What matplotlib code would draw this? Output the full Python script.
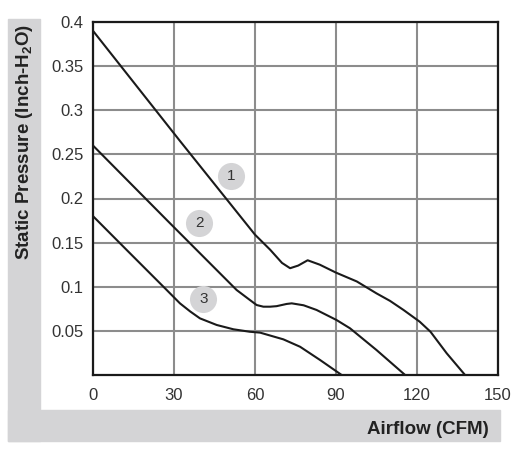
import matplotlib
matplotlib.use("Agg")
import matplotlib.pyplot as plt
from matplotlib.patches import Rectangle

plt.rcParams['font.family'] = ['Liberation Sans', 'DejaVu Sans']

# curve 1
x1 = [0, 32, 60, 65.6, 70, 73, 76, 79.5, 84, 90, 97.7, 105, 110, 115, 121, 125, 131, 137.8]
y1 = [0.39, 0.266, 0.159, 0.142, 0.127, 0.121, 0.124, 0.130, 0.125, 0.116, 0.106, 0.0925, 0.084,
      0.0737, 0.0604, 0.049, 0.0246, 0]
# curve 2
x2 = [0, 28.5, 53.2, 58.1, 60.6, 63.1, 65.6, 68, 71.7, 73.6, 78, 82.8, 90.2, 95.2, 105, 115.6]
y2 = [0.26, 0.172, 0.0963, 0.085, 0.0793, 0.0774, 0.0774, 0.078, 0.0805, 0.0812, 0.079, 0.0737,
      0.0623, 0.0529, 0.0283, 0]
# curve 3
x3 = [0, 12.5, 27.3, 32.2, 36, 39.6, 45.8, 52, 58.1, 61.9, 70.5, 76.7, 84.1, 92.1]
y3 = [0.18, 0.1416, 0.0963, 0.0812, 0.072, 0.0642, 0.0567, 0.0518, 0.049, 0.048, 0.0404, 0.032,
      0.017, 0]

# curve markers
label_names = ['1', '2', '3']
label_x = [51.1, 39.3, 40.9]
label_y = [0.2255, 0.172, 0.0858]

xticks = [0, 30, 60, 90, 120, 150]
yticks = [0.05, 0.1, 0.15, 0.2, 0.25, 0.3, 0.35, 0.4]
ytick_labels = ['0.05', '0.1', '0.15', '0.2', '0.25', '0.3', '0.35', '0.4']

W, H = 516, 459
fig = plt.figure(figsize=(W / 100, H / 100), dpi=100)

# gray L-shaped frame
gray = '#d4d4d6'
fig.patches.append(Rectangle((8 / W, 1 - 441 / H), 32 / W, 422 / H, transform=fig.transFigure,
                             color=gray, zorder=0))
fig.patches.append(Rectangle((8 / W, 1 - 441 / H), 492 / W, 31 / H, transform=fig.transFigure,
                             color=gray, zorder=0))

ax = fig.add_axes([93 / W, 1 - 375 / H, 405 / W, 353 / H])
ax.plot(x1, y1, color='#1a1a1a', lw=1.5)
ax.plot(x2, y2, color='#1a1a1a', lw=1.5)
ax.plot(x3, y3, color='#1a1a1a', lw=1.5)

ax.scatter(label_x, label_y, s=380, color='#d4d4d6', zorder=3, linewidths=0)
for name, lx, ly in zip(label_names, label_x, label_y):
    ax.text(lx, ly, name, ha='center', va='center', fontsize=11, color='#333333', zorder=4)

ax.set_xlim(0, 150)
ax.set_ylim(0, 0.4)
ax.set_xticks(xticks)
ax.set_yticks(yticks)
ax.set_yticklabels(ytick_labels)
ax.grid(True, color='#8c8c8c', lw=1.5)
ax.set_axisbelow(True)
ax.tick_params(length=0, labelsize=12, labelcolor='#333333')
ax.tick_params(axis='x', pad=9)
ax.tick_params(axis='y', pad=7)
for s in ax.spines.values():
    s.set_linewidth(1.6)
    s.set_color('#1a1a1a')

fig.text(25 / W, 1 - 142 / H, 'Static Pressure (Inch-H$_\\mathregular{2}$O)', rotation=90,
         ha='center', va='center', fontsize=13.5, fontweight='bold', color='#222222')
fig.text(489 / W, 1 - 430 / H, 'Airflow (CFM)', ha='right', va='center',
         fontsize=13.5, fontweight='bold', color='#222222')

fig.savefig('out.png', dpi=100)
